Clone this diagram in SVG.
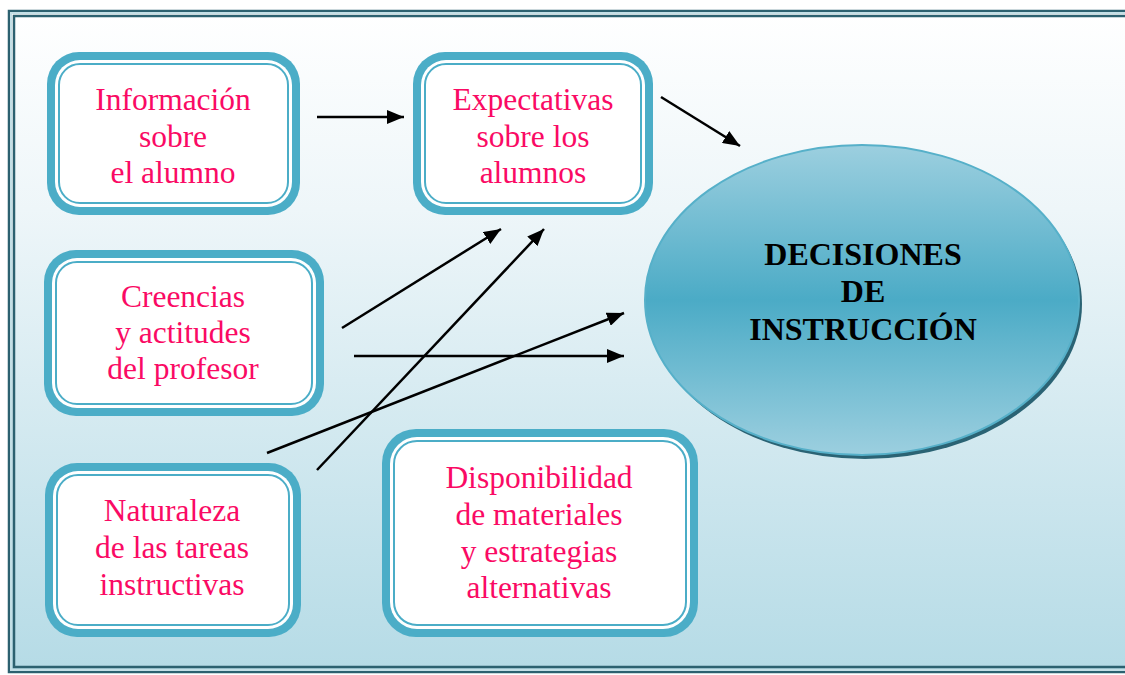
<svg xmlns="http://www.w3.org/2000/svg" width="1125" height="675" viewBox="0 0 1125 675">
<defs>
<linearGradient id="bg" x1="0" y1="0" x2="0" y2="1">
<stop offset="0" stop-color="#ffffff"/>
<stop offset="0.3" stop-color="#eef6f9"/>
<stop offset="1" stop-color="#b5dbe6"/>
</linearGradient>
<linearGradient id="ell" x1="0" y1="0" x2="0" y2="1">
<stop offset="0" stop-color="#9ccfdf"/>
<stop offset="0.5" stop-color="#4babc6"/>
<stop offset="1" stop-color="#9ccfdf"/>
</linearGradient>
<marker id="ah" markerUnits="userSpaceOnUse" markerWidth="18" markerHeight="14" refX="17" refY="7" orient="auto">
<path d="M0,0 L17,7 L0,14 Z" fill="#000"/>
</marker>
<style>
.outer{fill:#4badc7}
.inner{fill:#ffffff;stroke:#4badc7;stroke-width:2}
.gap{fill:#ffffff}
.lbl{font-family:"Liberation Serif","Times New Roman",serif;font-size:31.5px;fill:#fa0a64;text-anchor:middle}
.big{font-family:"Liberation Serif","Times New Roman",serif;font-size:32px;font-weight:bold;fill:#000;text-anchor:middle}
.con{stroke:#000;stroke-width:2.5;fill:none;marker-end:url(#ah)}
</style>
</defs>
<rect x="0" y="0" width="1125" height="675" fill="#ffffff"/>
<rect x="8" y="10" width="1140" height="663" fill="url(#bg)"/>
<rect x="9" y="11" width="1140" height="661" fill="none" stroke="#2c6170" stroke-width="2.5"/>
<rect x="11" y="13" width="1140" height="657" fill="none" stroke="#c3dfe6" stroke-width="2"/>
<rect x="14" y="16" width="1140" height="651" fill="none" stroke="#2c6170" stroke-width="2.5"/>

<g id="info">
<rect class="outer" x="47" y="52" width="253" height="163" rx="32"/>
<rect class="gap" x="55" y="60" width="237" height="147" rx="25"/>
<rect class="inner" x="59" y="64" width="229" height="139" rx="21"/>
<text class="lbl" x="173" y="110">Información</text>
<text class="lbl" x="173" y="147">sobre</text>
<text class="lbl" x="173" y="183">el alumno</text>
</g>

<g id="expect">
<rect class="outer" x="413" y="52" width="240" height="163" rx="32"/>
<rect class="gap" x="421" y="60" width="224" height="147" rx="25"/>
<rect class="inner" x="425" y="64" width="216" height="139" rx="21"/>
<text class="lbl" x="533" y="110">Expectativas</text>
<text class="lbl" x="533" y="147">sobre los</text>
<text class="lbl" x="533" y="183">alumnos</text>
</g>

<g id="creencias">
<rect class="outer" x="44" y="250" width="280" height="166" rx="32"/>
<rect class="gap" x="52" y="258" width="264" height="150" rx="25"/>
<rect class="inner" x="56" y="262" width="256" height="142" rx="21"/>
<text class="lbl" x="183" y="307">Creencias</text>
<text class="lbl" x="183" y="343">y actitudes</text>
<text class="lbl" x="183" y="379">del profesor</text>
</g>

<g id="naturaleza">
<rect class="outer" x="45" y="463" width="256" height="174" rx="32"/>
<rect class="gap" x="53" y="471" width="240" height="158" rx="25"/>
<rect class="inner" x="57" y="475" width="232" height="150" rx="21"/>
<text class="lbl" x="172" y="521">Naturaleza</text>
<text class="lbl" x="172" y="558">de las tareas</text>
<text class="lbl" x="172" y="595">instructivas</text>
</g>

<g id="disponibilidad">
<rect class="outer" x="382" y="429" width="316" height="208" rx="34"/>
<rect class="gap" x="390" y="437" width="300" height="192" rx="27"/>
<rect class="inner" x="394" y="441" width="292" height="184" rx="23"/>
<text class="lbl" x="539" y="488">Disponibilidad</text>
<text class="lbl" x="539" y="525">de materiales</text>
<text class="lbl" x="539" y="562">y estrategias</text>
<text class="lbl" x="539" y="598">alternativas</text>
</g>

<g id="decisiones">
<ellipse cx="865" cy="304" rx="217" ry="155" fill="#2a6374"/>
<ellipse cx="862" cy="300" rx="217" ry="155" fill="url(#ell)" stroke="#56b0c9" stroke-width="2"/>
<text class="big" x="863" y="265">DECISIONES</text>
<text class="big" x="863" y="302">DE</text>
<text class="big" x="863" y="340">INSTRUCCIÓN</text>
</g>

<g id="connectors">
<line class="con" x1="317" y1="117" x2="404" y2="117"/>
<line class="con" x1="661" y1="97" x2="740" y2="146"/>
<line class="con" x1="342" y1="328" x2="501" y2="229"/>
<line class="con" x1="317" y1="470" x2="544" y2="229"/>
<line class="con" x1="354" y1="356" x2="624" y2="356"/>
<line class="con" x1="267" y1="453" x2="624" y2="313"/>
</g>
</svg>
